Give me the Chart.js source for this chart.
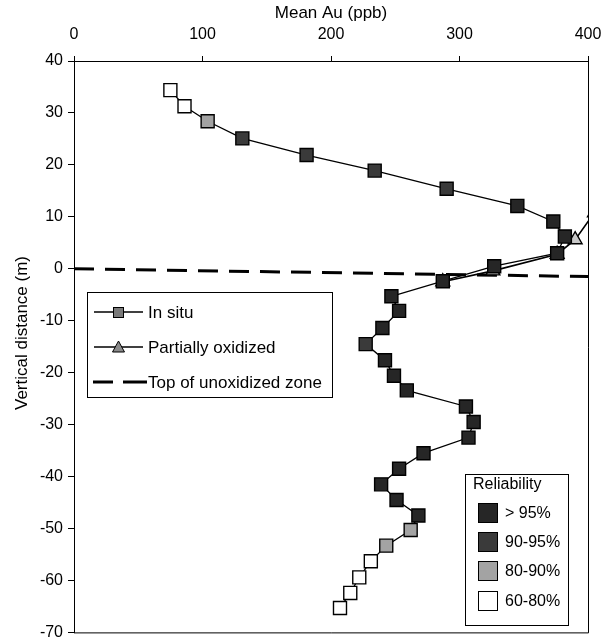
<!DOCTYPE html>
<html><head><meta charset="utf-8">
<script src="https://cdn.jsdelivr.net/npm/chart.js@4.4.1/dist/chart.umd.min.js"></script>
<style>html,body{margin:0;padding:0;background:#fff;}canvas{display:block;}</style>
</head><body>
<canvas id="c" width="604" height="643"></canvas>
<script>
// ---- data ----
const depthInSitu = [34.4, 31.3, 28.4, 25.1, 21.9, 18.9, 15.4, 12.1, 9.1, 6.2,
  3.0, 0.5, -2.4, -5.3, -8.1, -11.4, -14.5, -17.6, -20.6, -23.4,
  -26.5, -29.5, -32.5, -35.5, -38.5, -41.5, -44.5, -47.5, -50.3, -53.3,
  -56.3, -59.4, -62.4, -65.3];
const auInSitu = [75, 86, 104, 131, 181, 234, 290, 345, 373, 382,
  376, 327, 287, 247, 253, 240, 227, 242, 249, 259,
  305, 311, 307, 272, 253, 239, 251, 268, 262, 243,
  231, 222, 215, 207];
const reliabilityInSitu = ['60-80%', '60-80%', '80-90%', '90-95%', '90-95%', '90-95%', '90-95%', '> 95%', '> 95%', '> 95%',
  '> 95%', '> 95%', '> 95%', '> 95%', '> 95%', '> 95%', '90-95%', '> 95%', '> 95%', '> 95%',
  '> 95%', '> 95%', '> 95%', '> 95%', '> 95%', '> 95%', '> 95%', '> 95%', '80-90%', '80-90%',
  '60-80%', '60-80%', '60-80%', '60-80%'];
const depthPartial = [10.8, 5.6, 2.8, -0.4, -2.5];
const auPartial = [405, 390, 376, 326, 287];
const depthUnoxTop = [0, -1.5];
const auUnoxTop = [0, 400];
const reliabilityClasses = ['> 95%', '90-95%', '80-90%', '60-80%'];
const seriesNames = ['In situ', 'Partially oxidized', 'Top of unoxidized zone'];
const xTitle = 'Mean Au (ppb)';
const yTitle = 'Vertical distance (m)';
const legendTitle = 'Reliability';

// ---- styles ----
const reliabilityColor = {'> 95%': '#262626', '90-95%': '#3a3a3a', '80-90%': '#a3a3a3', '60-80%': '#ffffff'};
const FONT = "'Liberation Sans', Arial, sans-serif";

const toPts = (xs, ys) => xs.map((x, i) => ({x: x, y: ys[i]}));

const legendPlugin = {
  id: 'customLegends',
  afterDraw(chart) {
    const ctx = chart.ctx, ca = chart.chartArea;
    ctx.save();
    // frame
    ctx.strokeStyle = '#000'; ctx.lineWidth = 1; ctx.setLineDash([]);
    ctx.beginPath();
    ctx.moveTo(ca.left, ca.top + 0.5); ctx.lineTo(ca.right + 0.5, ca.top + 0.5);
    ctx.lineTo(ca.right + 0.5, ca.bottom + 0.5); ctx.lineTo(ca.left, ca.bottom + 0.5);
    ctx.stroke();

    // y axis title
    ctx.save();
    ctx.translate(22, 333);
    ctx.rotate(-Math.PI / 2);
    ctx.fillStyle = '#000'; ctx.font = '17px ' + FONT;
    ctx.textAlign = 'center'; ctx.textBaseline = 'middle';
    ctx.fillText(yTitle, 0, 0);
    ctx.restore();

    // series legend
    ctx.fillStyle = '#fff';
    ctx.fillRect(87, 292, 245, 105);
    ctx.strokeRect(87.5, 292.5, 245, 105);
    ctx.font = '17px ' + FONT; ctx.textBaseline = 'middle'; ctx.textAlign = 'left';
    const ys = [312, 347, 382];
    ctx.lineWidth = 1.3; ctx.strokeStyle = '#000';
    ctx.beginPath(); ctx.moveTo(94, ys[0]); ctx.lineTo(143, ys[0]); ctx.stroke();
    ctx.fillStyle = '#7a7a7a'; ctx.fillRect(113, ys[0] - 5, 11, 11);
    ctx.lineWidth = 1; ctx.strokeRect(113.5, ys[0] - 4.5, 10, 10);
    ctx.lineWidth = 1.3;
    ctx.beginPath(); ctx.moveTo(94, ys[1]); ctx.lineTo(143, ys[1]); ctx.stroke();
    ctx.beginPath(); ctx.moveTo(118.5, ys[1] - 6); ctx.lineTo(124.5, ys[1] + 5); ctx.lineTo(112.5, ys[1] + 5); ctx.closePath();
    ctx.fillStyle = '#8a8a8a'; ctx.fill(); ctx.lineWidth = 1; ctx.stroke();
    ctx.lineWidth = 3;
    ctx.beginPath(); ctx.moveTo(93, ys[2]); ctx.lineTo(113, ys[2]); ctx.moveTo(123, ys[2]); ctx.lineTo(147, ys[2]); ctx.stroke();
    ctx.fillStyle = '#000';
    seriesNames.forEach((t, i) => ctx.fillText(t, 148, ys[i] + 1));

    // reliability legend
    ctx.fillStyle = '#fff';
    ctx.fillRect(465, 474, 103, 151);
    ctx.lineWidth = 1; ctx.strokeStyle = '#000';
    ctx.strokeRect(465.5, 474.5, 103, 151);
    ctx.fillStyle = '#000'; ctx.font = '16px ' + FONT;
    ctx.fillText(legendTitle, 473, 485);
    const ry = [513, 542, 571, 601];
    reliabilityClasses.forEach((c, i) => {
      ctx.fillStyle = reliabilityColor[c];
      ctx.fillRect(478, ry[i] - 10, 20, 20);
      ctx.strokeRect(478.5, ry[i] - 9.5, 19, 19);
      ctx.fillStyle = '#000';
      ctx.fillText(c, 505, ry[i] + 1);
    });
    ctx.restore();
  }
};

new Chart(document.getElementById('c'), {
  type: 'scatter',
  data: {
    datasets: [
      {
        label: seriesNames[0],
        data: toPts(auInSitu, depthInSitu),
        showLine: true,
        borderColor: '#000', borderWidth: 1.3,
        pointStyle: 'rect', pointRadius: 9.2,
        pointBackgroundColor: reliabilityInSitu.map(r => reliabilityColor[r]),
        pointBorderColor: '#000', pointBorderWidth: 1.4,
        order: 0
      },
      {
        label: seriesNames[1],
        data: toPts(auPartial, depthPartial),
        showLine: true,
        borderColor: '#000', borderWidth: 1.6,
        pointStyle: 'triangle', pointRadius: 8,
        pointBackgroundColor: '#c8c8c8',
        pointBorderColor: '#000', pointBorderWidth: 1.4,
        order: 1
      },
      {
        label: seriesNames[2],
        data: toPts(auUnoxTop, depthUnoxTop),
        showLine: true,
        borderColor: '#000', borderWidth: 3, borderDash: [20, 11],
        pointRadius: 0,
        order: 2
      }
    ]
  },
  options: {
    responsive: false,
    animation: false,
    events: [],
    layout: {padding: {top: 0, left: 0, right: 16, bottom: 6}},
    plugins: {legend: {display: false}, tooltip: {enabled: false}},
    scales: {
      x: {
        type: 'linear', position: 'top', min: 0, max: 400,
        ticks: {stepSize: 100, autoSkip: false, maxRotation: 0, color: '#000', font: {family: FONT, size: 16}, padding: 12},
        grid: {drawOnChartArea: false, drawTicks: true, tickLength: 5, color: '#000'},
        border: {display: true, color: '#000', width: 1},
        title: {display: true, text: xTitle, color: '#000', font: {family: FONT, size: 17}, padding: {top: 3, bottom: 0}},
        afterFit(s) { s.height = 61; s.paddingLeft = 0; s.paddingRight = 0; }
      },
      y: {
        type: 'linear', position: 'left', min: -70, max: 40,
        ticks: {stepSize: 10, autoSkip: false, color: '#000', font: {family: FONT, size: 16}, padding: 5},
        grid: {drawOnChartArea: false, drawTicks: true, tickLength: 6, color: '#000'},
        border: {display: true, color: '#000', width: 1},
        title: {display: false, text: yTitle},
        afterFit(s) { s.width = 74; s.paddingTop = 0; s.paddingBottom = 0; }
      }
    }
  },
  plugins: [legendPlugin]
});
</script>
</body></html>
